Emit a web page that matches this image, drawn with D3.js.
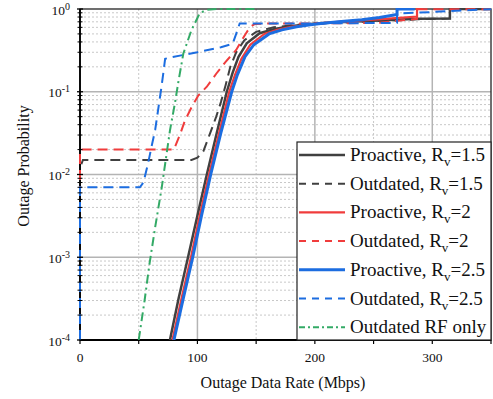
<!DOCTYPE html>
<html>
<head>
<meta charset="utf-8">
<script src="https://cdn.jsdelivr.net/npm/d3@7"></script>
<style>
  body { margin: 0; background: #fff; }
  text { font-family: "Liberation Serif", "Times New Roman", serif; fill: #111; }
</style>
</head>
<body>
<div id="chart"></div>
<script>
// x ticks / y ticks
const xTicks = [0, 100, 200, 300];
const xMinor = [50, 150, 250];
const yExps = [0, -1, -2, -3, -4];

// Proactive, Rv=1.5
const pro15X = [76.6, 84, 92, 100, 108, 116.5, 125, 130, 135, 142, 153, 165, 176, 190, 201, 220, 240, 260, 287, 315, 315, 350];
const pro15Y = [1e-4, 3.2e-4, 1e-3, 3.2e-3, 1e-2, 3.2e-2, 0.1, 0.17, 0.265, 0.385, 0.51, 0.57, 0.61, 0.645, 0.67, 0.69, 0.71, 0.73, 0.76, 0.77, 1, 1];
// Outdated, Rv=1.5
const out15X = [0, 0, 2.5, 95, 100, 105, 111, 116, 120, 124, 128, 133, 140, 150, 165, 180, 200, 240, 287, 315, 315, 350];
const out15Y = [1e-4, 0.012, 0.015, 0.015, 0.016, 0.019, 0.032, 0.05, 0.075, 0.12, 0.2, 0.3, 0.42, 0.53, 0.6, 0.635, 0.665, 0.70, 0.75, 0.77, 1, 1];
// Proactive, Rv=2
const pro20X = [78.7, 86.5, 94.5, 102, 109.9, 118.5, 127.1, 132, 137.5, 145, 157, 168, 180, 193, 203, 220, 240, 260, 287, 287, 292];
const pro20Y = [1e-4, 3.2e-4, 1e-3, 3.2e-3, 1e-2, 3.2e-2, 0.1, 0.16, 0.25, 0.37, 0.5, 0.56, 0.61, 0.645, 0.67, 0.70, 0.73, 0.76, 0.81, 1, 1];
// Outdated, Rv=2
const out20X = [0, 0, 80, 85, 89.4, 95, 100.7, 108, 116, 124, 133, 137, 141, 145, 149, 160, 200, 255, 270, 287, 287, 350];
const out20Y = [1e-4, 0.02, 0.02, 0.03, 0.045, 0.065, 0.09, 0.115, 0.165, 0.23, 0.32, 0.4, 0.5, 0.61, 0.66, 0.67, 0.67, 0.68, 0.72, 0.76, 0.99, 0.99];
// Proactive, Rv=2.5
const pro25X = [80, 88, 96, 103.5, 111.3, 120, 129.2, 134, 140.5, 148, 161, 172, 184.5, 196, 205, 220, 240, 255, 270, 270, 285];
const pro25Y = [1e-4, 3.2e-4, 1e-3, 3.2e-3, 1e-2, 3.2e-2, 0.1, 0.16, 0.265, 0.37, 0.5, 0.56, 0.61, 0.645, 0.67, 0.70, 0.74, 0.79, 0.86, 1, 1];
// Outdated, Rv=2.5
const out25X = [0, 0, 51, 54, 58, 61, 64, 66.5, 69, 71, 72.5, 77, 100, 120, 130, 133, 136, 160, 200, 240, 270, 270, 285, 300, 320, 340, 350];
const out25Y = [1e-4, 0.007, 0.007, 0.008, 0.0137, 0.022, 0.0345, 0.06, 0.105, 0.17, 0.25, 0.26, 0.3, 0.345, 0.38, 0.5, 0.67, 0.67, 0.67, 0.675, 0.68, 0.88, 0.9, 0.92, 0.95, 0.98, 0.99];
// Outdated RF only
const rfX = [50, 55, 59, 64, 69.5, 73, 76.6, 81, 83.7, 88, 95, 102, 108, 116, 152];
const rfY = [1e-4, 3e-4, 8e-4, 2.3e-3, 6.8e-3, 0.015, 0.034, 0.075, 0.13, 0.29, 0.56, 0.89, 0.98, 1, 1];

const series = [
  { name: 'Proactive, R', sub: 'v', tail: '=1.5', xs: pro15X, ys: pro15Y, color: '#404040', dash: null, w: 2.5 },
  { name: 'Outdated, R', sub: 'v', tail: '=1.5', xs: out15X, ys: out15Y, color: '#404040', dash: '10,6', w: 2 },
  { name: 'Proactive, R', sub: 'v', tail: '=2', xs: pro20X, ys: pro20Y, color: '#f03c3c', dash: null, w: 2.2 },
  { name: 'Outdated, R', sub: 'v', tail: '=2', xs: out20X, ys: out20Y, color: '#f03c3c', dash: '10,6', w: 2 },
  { name: 'Proactive, R', sub: 'v', tail: '=2.5', xs: pro25X, ys: pro25Y, color: '#1c6de0', dash: null, w: 3 },
  { name: 'Outdated, R', sub: 'v', tail: '=2.5', xs: out25X, ys: out25Y, color: '#1c6de0', dash: '10,6', w: 2 },
  { name: 'Outdated RF only', sub: '', tail: '', xs: rfX, ys: rfY, color: '#33aa66', dash: '9,4,2,4', w: 2 }
];

const W = 493, H = 399;
const margin = { top: 9, right: 2, bottom: 59, left: 80 };
const x = d3.scaleLinear().domain([0, 350]).range([margin.left, W - margin.right]);
const y = d3.scaleLog().domain([1e-4, 1]).range([H - margin.bottom, margin.top]);

const svg = d3.select('#chart').append('svg').attr('width', W).attr('height', H);

// grid, minor dotted
const minorY = [];
yExps.slice(1).forEach(e => {
  for (let k = 2; k <= 9; k++) minorY.push(k * Math.pow(10, e));
});
const grid = svg.append('g');
grid.selectAll('.gx-minor').data(xMinor).enter().append('line')
  .attr('x1', d => x(d)).attr('x2', d => x(d)).attr('y1', y(1)).attr('y2', y(1e-4))
  .attr('stroke', '#c8c8c8').attr('stroke-width', 1).attr('stroke-dasharray', '2,2');
grid.selectAll('.gy-minor').data(minorY).enter().append('line')
  .attr('x1', x(0)).attr('x2', x(350)).attr('y1', d => y(d)).attr('y2', d => y(d))
  .attr('stroke', '#c8c8c8').attr('stroke-width', 1).attr('stroke-dasharray', '2,2');
// major grid
grid.selectAll('.gx').data(xTicks.slice(1)).enter().append('line')
  .attr('x1', d => x(d)).attr('x2', d => x(d)).attr('y1', y(1)).attr('y2', y(1e-4))
  .attr('stroke', '#b4b4b4').attr('stroke-width', 1.5);
grid.selectAll('.gy').data(yExps.slice(1, 4)).enter().append('line')
  .attr('x1', x(0)).attr('x2', x(350)).attr('y1', d => y(Math.pow(10, d))).attr('y2', d => y(Math.pow(10, d)))
  .attr('stroke', '#b4b4b4').attr('stroke-width', 1.5);

// frame
svg.append('rect')
  .attr('x', x(0)).attr('y', y(1)).attr('width', x(350) - x(0)).attr('height', y(1e-4) - y(1))
  .attr('fill', 'none').attr('stroke', '#222').attr('stroke-width', 1.3);
svg.append('line').attr('x1', x(0)).attr('x2', x(0)).attr('y1', y(1)).attr('y2', y(1e-4))
  .attr('stroke', '#000').attr('stroke-width', 1.8);
svg.append('line').attr('x1', x(0)).attr('x2', x(350)).attr('y1', y(1e-4)).attr('y2', y(1e-4))
  .attr('stroke', '#000').attr('stroke-width', 1.8);

// curves
svg.append('clipPath').attr('id', 'clip').append('rect')
  .attr('x', x(0) - 2).attr('y', y(1) - 1).attr('width', x(350) - x(0) + 2).attr('height', y(1e-4) - y(1) + 1);

const line = d3.line().x(d => x(d[0])).y(d => y(d[1]));
const curves = svg.append('g').attr('clip-path', 'url(#clip)');
series.forEach(s => {
  curves.append('path')
    .datum(s.xs.map((v, i) => [v, s.ys[i]]))
    .attr('fill', 'none')
    .attr('stroke', s.color)
    .attr('stroke-width', s.w)
    .attr('stroke-dasharray', s.dash)
    .attr('d', line);
});

// y ticks
const yAxis = svg.append('g');
yAxis.selectAll('.tmaj').data(yExps).enter().append('line')
  .attr('x1', x(0) - 3).attr('x2', x(0) + 3)
  .attr('y1', d => y(Math.pow(10, d))).attr('y2', d => y(Math.pow(10, d)))
  .attr('stroke', '#000').attr('stroke-width', 1.3);
yAxis.selectAll('.tmin').data(minorY).enter().append('line')
  .attr('x1', x(0) - 2.5).attr('x2', x(0) + 2.5)
  .attr('y1', d => y(d)).attr('y2', d => y(d))
  .attr('stroke', '#000').attr('stroke-width', 1);
const yl = yAxis.selectAll('.ylab').data(yExps).enter().append('text')
  .attr('x', 70).attr('y', d => y(Math.pow(10, d)) + 5.5)
  .attr('text-anchor', 'end').style('font-size', '13.5px');
yl.append('tspan').text('10');
yl.append('tspan').attr('dy', -5).style('font-size', '10px').text(d => d === 0 ? '0' : '-' + (-d));

// x ticks
const xAxis = svg.append('g');
xAxis.selectAll('.xt').data(xTicks.concat(xMinor, [350])).enter().append('line')
  .attr('x1', d => x(d)).attr('x2', d => x(d))
  .attr('y1', y(1e-4)).attr('y2', y(1e-4) + 4)
  .attr('stroke', '#000').attr('stroke-width', 1.2);
xAxis.selectAll('.xl').data(xTicks).enter().append('text')
  .attr('x', d => x(d)).attr('y', 362)
  .attr('text-anchor', 'middle').style('font-size', '13.5px')
  .text(d => d);

// axis titles
svg.append('text').attr('x', 283).attr('y', 388).attr('text-anchor', 'middle')
  .style('font-size', '16px').text('Outage Data Rate (Mbps)');
svg.append('text').attr('transform', 'translate(29,166) rotate(-90)').attr('text-anchor', 'middle')
  .style('font-size', '16px').text('Outage Probability');

// legend
const lg = svg.append('g');
lg.append('rect').attr('x', 297).attr('y', 142).attr('width', 194).attr('height', 198)
  .attr('fill', '#fff').attr('stroke', '#222').attr('stroke-width', 1.2);
series.forEach((s, i) => {
  const cy = 155 + i * 28.7;
  lg.append('line').attr('x1', 299).attr('x2', 345).attr('y1', cy).attr('y2', cy)
    .attr('stroke', s.color).attr('stroke-width', s.w)
    .attr('stroke-dasharray', s.dash ? (s.sub ? '7,6' : '6,3,2,3') : null);
  const t = lg.append('text').attr('x', 350).attr('y', cy + 6).style('font-size', '19px');
  t.append('tspan').text(s.name);
  if (s.sub) {
    t.append('tspan').attr('dy', 5).style('font-size', '13px').text(s.sub);
    t.append('tspan').attr('dy', -5).text(s.tail);
  }
});
</script>
</body>
</html>
